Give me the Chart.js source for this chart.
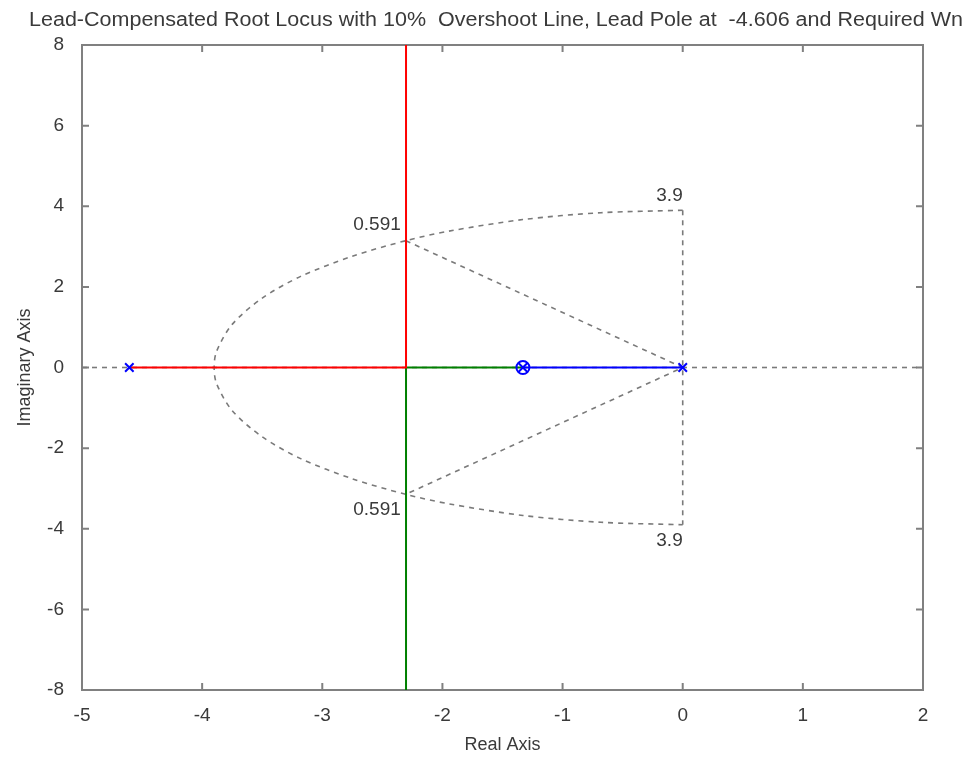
<!DOCTYPE html>
<html>
<head>
<meta charset="utf-8">
<script src="https://cdn.jsdelivr.net/npm/chart.js@4.4.0/dist/chart.umd.min.js"></script>
<style>
  html, body { margin: 0; padding: 0; background: #fff; }
  #wrap { width: 976px; height: 761px; }
</style>
</head>
<body>
<div id="wrap"><canvas id="rlocus"></canvas></div>
<script>
const titleText = 'Lead-Compensated Root Locus with 10%  Overshoot Line, Lead Pole at  -4.606 and Required Wn';
const xTicks = [-5, -4, -3, -2, -1, 0, 1, 2];
const yTicks = [-8, -6, -4, -2, 0, 2, 4, 6, 8];

// open loop poles / zeros
const poleX = [-4.606, 0, -1.33];
const poleY = [0, 0, 0];
const zeroX = [-1.33];
const zeroY = [0];

// locus branches (breakaway at -2.303)
const redX = [-4.606, -2.303, -2.303];
const redY = [0, 0, 8];
const greenX = [-1.33, -2.303, -2.303];
const greenY = [0, 0, -8];
const blueX = [0, -1.33];
const blueY = [0, 0];

// sgrid: wn = 3.9 arc, zeta = 0.591 rays
const arcX = [0, -0.68, -1.33, -1.95, -2.305, -2.75, -3.18, -3.5, -3.75, -3.88, -3.9,
              -3.88, -3.75, -3.5, -3.18, -2.75, -2.305, -1.95, -1.33, -0.68, 0];
const arcY = [3.9, 3.84, 3.67, 3.38, 3.146, 2.76, 2.26, 1.72, 1.07, 0.4, 0,
              -0.4, -1.07, -1.72, -2.26, -2.76, -3.146, -3.38, -3.67, -3.84, -3.9];
const rayX = [-2.305, 0, -2.305];
const rayY = [3.146, 0, -3.146];
const wnLineX = [0, 0];
const wnLineY = [3.9, -3.9];
const axisLineX = [-5, 2];
const axisLineY = [0, 0];

const gridLabels = ['0.591', '3.9', '0.591', '3.9'];
const gridLabelX = [-2.305, 0, -2.305, 0];
const gridLabelY = [3.146, 3.9, -3.146, -3.9];

const pts = (xs, ys) => xs.map((x, i) => ({ x: x, y: ys[i] }));

const GRAY = '#7a7a7a';
const TEXT = '#3a3a3a';
const FONT = '"Liberation Sans", Arial, sans-serif';

function dashed(xs, ys, tension) {
  return {
    data: pts(xs, ys), showLine: true, borderColor: GRAY, borderWidth: 1.6,
    borderDash: [5, 5], pointRadius: 0, tension: tension || 0, order: 10
  };
}
function branch(xs, ys, color) {
  return {
    data: pts(xs, ys), showLine: true, borderColor: color, borderWidth: 2,
    pointRadius: 0, order: 5
  };
}

const framePlugin = {
  id: 'frame',
  beforeDatasetsDraw(chart) {
    const ctx = chart.ctx, a = chart.chartArea;
    const sx = chart.scales.x, sy = chart.scales.y;
    ctx.save();
    ctx.strokeStyle = '#808080';
    ctx.lineWidth = 2;
    ctx.strokeRect(a.left, a.top, a.right - a.left, a.bottom - a.top);
    ctx.beginPath();
    const len = 7;
    xTicks.forEach(v => {
      const px = sx.getPixelForValue(v);
      ctx.moveTo(px, a.bottom); ctx.lineTo(px, a.bottom - len);
      ctx.moveTo(px, a.top); ctx.lineTo(px, a.top + len);
    });
    yTicks.forEach(v => {
      const py = sy.getPixelForValue(v);
      ctx.moveTo(a.left, py); ctx.lineTo(a.left + len, py);
      ctx.moveTo(a.right, py); ctx.lineTo(a.right - len, py);
    });
    ctx.stroke();
    ctx.restore();
  },
  afterDraw(chart) {
    const ctx = chart.ctx, a = chart.chartArea;
    const sx = chart.scales.x, sy = chart.scales.y;
    ctx.save();
    ctx.fillStyle = TEXT;
    // title, stretched to the reference width
    ctx.font = '20px ' + FONT;
    ctx.textBaseline = 'alphabetic';
    ctx.textAlign = 'center';
    const w = ctx.measureText(titleText).width;
    const k = 934 / w;
    ctx.save();
    ctx.translate(496, 26);
    ctx.scale(k, 1);
    ctx.fillText(titleText, 0, 0);
    ctx.restore();

    // axis titles
    ctx.font = '18px ' + FONT;
    ctx.textBaseline = 'middle';
    ctx.fillText('Real Axis', (a.left + a.right) / 2, 745);
    ctx.save();
    ctx.translate(25, (a.top + a.bottom) / 2);
    ctx.rotate(-Math.PI / 2);
    ctx.fillText('Imaginary Axis', 0, 0);
    ctx.restore();

    // sgrid labels
    ctx.font = '19px ' + FONT;
    ctx.textAlign = 'right';
    const offX = [-5, 0, -5, 0];
    const offY = [-16, -15, 15, 16];
    gridLabels.forEach((t, i) => {
      const px = sx.getPixelForValue(gridLabelX[i]) + offX[i];
      const py = sy.getPixelForValue(gridLabelY[i]) + offY[i];
      ctx.fillText(t, px, py);
    });
    ctx.restore();
  }
};

new Chart(document.getElementById('rlocus'), {
  type: 'scatter',
  data: {
    datasets: [
      dashed(axisLineX, axisLineY),
      dashed(wnLineX, wnLineY),
      dashed(rayX, rayY),
      dashed(arcX, arcY, 0.3),
      branch(redX, redY, '#ff0000'),
      branch(greenX, greenY, '#008000'),
      branch(blueX, blueY, '#0000ff'),
      {
        data: pts(zeroX, zeroY), pointStyle: 'circle', pointRadius: 6.5,
        borderColor: '#0000ff', backgroundColor: 'rgba(0,0,0,0)', borderWidth: 2, order: 1
      },
      {
        data: pts(poleX, poleY), pointStyle: 'crossRot', pointRadius: 6,
        borderColor: '#0000ff', borderWidth: 2, order: 0
      }
    ]
  },
  options: {
    responsive: true,
    maintainAspectRatio: false,
    animation: false,
    layout: { padding: { top: 45, right: 53, left: 0, bottom: 0 } },
    plugins: { legend: { display: false }, tooltip: { enabled: false } },
    scales: {
      x: {
        type: 'linear', min: -5, max: 2,
        afterBuildTicks: s => { s.ticks = xTicks.map(v => ({ value: v })); },
        afterFit: s => { s.height = 71; },
        grid: { display: false },
        border: { display: false },
        ticks: { color: TEXT, padding: 6, font: { size: 19, family: FONT } }
      },
      y: {
        type: 'linear', min: -8, max: 8,
        afterBuildTicks: s => { s.ticks = yTicks.map(v => ({ value: v })); },
        afterFit: s => { s.width = 82; },
        grid: { display: false },
        border: { display: false },
        ticks: { color: TEXT, padding: 10, font: { size: 19, family: FONT } }
      }
    }
  },
  plugins: [framePlugin]
});
</script>
</body>
</html>
